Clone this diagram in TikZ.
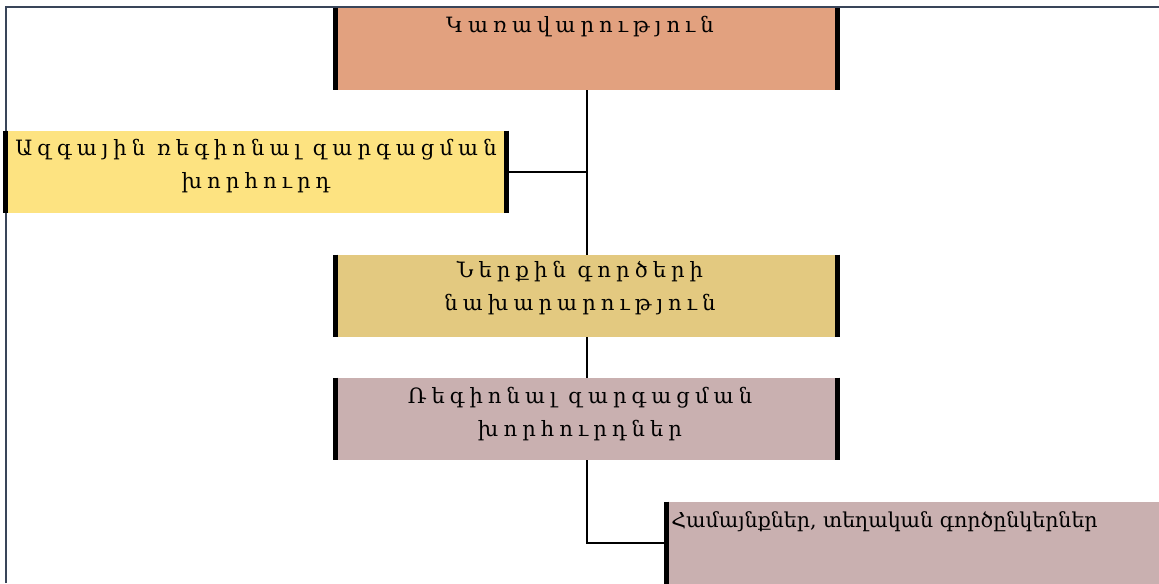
\documentclass[tikz,border=0pt]{standalone}
\usepackage{fontspec}
\newfontfamily\armfont[Script=Armenian]{DejaVu Serif}
\newfontfamily\armspread[Script=Armenian,LetterSpace=24]{DejaVu Serif}
\definecolor{framecol}{HTML}{394559}
\definecolor{govcol}{HTML}{E2A17F}
\definecolor{natcol}{HTML}{FDE381}
\definecolor{mincol}{HTML}{E3C980}
\definecolor{regcol}{HTML}{C9B0B0}
\begin{document}
\begin{tikzpicture}[x=0.02cm,y=-0.02cm,
  box/.style={minimum width=10.02cm,minimum height=1.64cm,inner sep=0pt,draw=none},
  bar/.style={line width=0.1cm},
  link/.style={line width=0.04cm},
  spread/.style={font=\armspread\fontsize{12}{19}\selectfont,align=center,inner sep=0pt}]
\useasboundingbox (0,0) rectangle (1159,583);
\clip (0,0) rectangle (1159,583);

\draw [framecol,line width=0.05cm] (6,583) -- (6,7) -- (1159,7);

\node (gov) [box,fill=govcol] at (586.5,49) {};
\node (nat) [box,fill=natcol] at (256,172) {};
\node (min) [box,fill=mincol] at (586.5,296) {};
\node (reg) [box,fill=regcol] at (586.5,419) {};
\node (com) [box,fill=regcol] at (917.5,543) {};

\foreach \b in {gov,nat,min,reg} {
  \draw [bar] (\b.north west) -- (\b.south west);
  \draw [bar] (\b.north east) -- (\b.south east);
}
\draw [bar] (com.north west) -- (com.south west);

\node (govtext) [spread] at (580,27) {Կառավարություն};
\node (nattext) [spread] at (256,166) {Ազգային ռեգիոնալ զարգացման\\խորհուրդ};
\node (mintext) [spread] at (580,288) {Ներքին գործերի\\նախարարություն};
\node (regtext) [spread] at (580,414) {Ռեգիոնալ զարգացման\\խորհուրդներ};
\node (comtext) [anchor=west,inner sep=0pt,font=\armfont\fontsize{11.7}{13}\selectfont] at (671,522) {Համայնքներ, տեղական գործընկերներ};

\draw [link] (gov.south) -- (min.north);
\draw [link] (nat.east) -- (nat.east -| gov.south);
\draw [link] (min.south) -- (reg.north);
\draw [link] (reg.south) |- (com.west);

\end{tikzpicture}
\end{document}
